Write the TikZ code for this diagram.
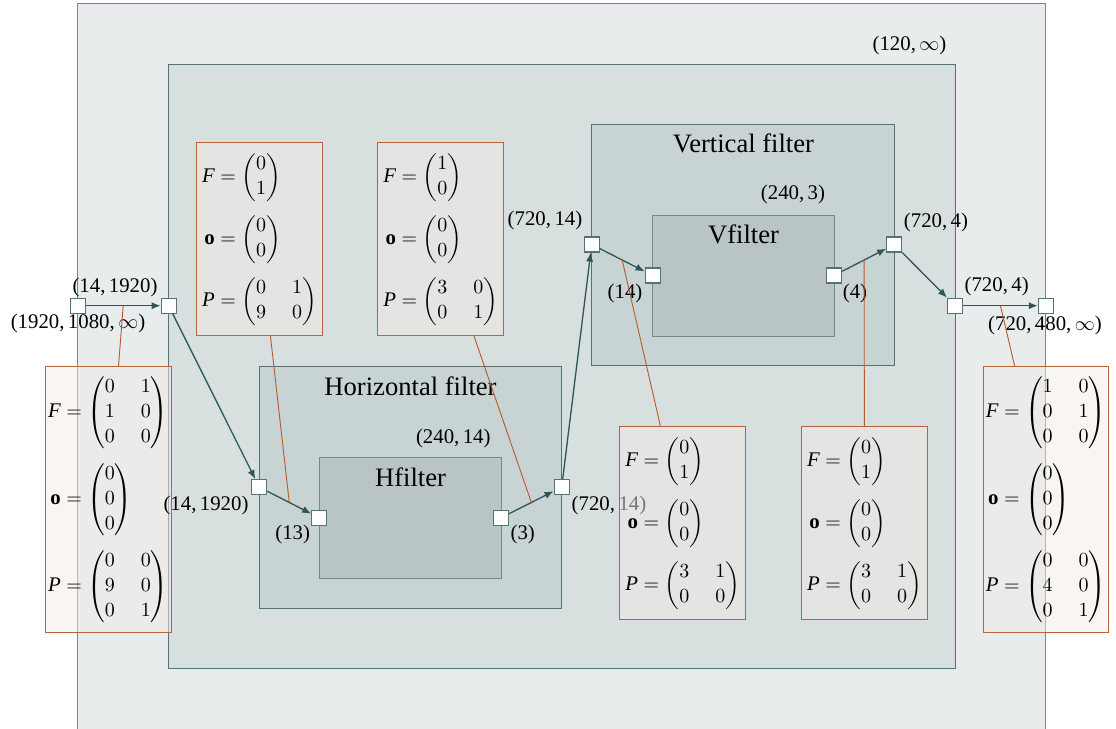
\documentclass[tikz,border=0pt]{standalone}
\usepackage{amsmath}
\usepackage{fontspec}
\setmainfont{Liberation Serif}
\newfontfamily\lsffam{Liberation Serif}[NFSSFamily=lsf]
\DeclareSymbolFont{operators}{TU}{lsf}{m}{n}
\usetikzlibrary{arrows.meta}
\definecolor{outerfill}{HTML}{E8ECEC}
\definecolor{secfill}{HTML}{D8DFDF}
\definecolor{midfill}{HTML}{C8D3D3}
\definecolor{innfill}{HTML}{B9C5C5}
\definecolor{framec}{HTML}{557373}
\definecolor{frameo}{HTML}{6F8C8C}
\definecolor{arrc}{HTML}{2F5656}
\definecolor{annc}{HTML}{B8643A}
\definecolor{annl}{HTML}{B85A2A}
\definecolor{annfill}{HTML}{F1EBE7}
\newcommand{\vF}{\textit{F}}
\newcommand{\vP}{\textit{P}}
\newcommand{\vo}{\textbf{o}}
\newcommand{\infsym}{$\infty$}
\tikzset{
  cont/.style={draw=framec, line width=0.5pt, inner sep=0pt},
  port/.style={draw=framec, fill=white, line width=0.6pt, minimum size=7.5pt, inner sep=0pt},
  arr/.style={draw=arrc, line width=0.65pt, -{Latex[length=4.5pt,width=3.6pt]}},
  annline/.style={draw=annl, line width=0.45pt},
  ann/.style={draw=annc, line width=0.5pt, fill=annfill, fill opacity=0.5, text opacity=1,
    minimum width=62.8pt, inner sep=0pt,
    font=\fontsize{10.4}{12.5}\selectfont, execute at begin node={\setlength\arraycolsep{6.5pt}}},
  lab/.style={font=\fontsize{10.4}{12.5}\selectfont, inner sep=0pt},
  ttl/.style={font=\fontsize{13.3}{16}\selectfont, inner sep=0pt},
}
\begin{document}
\begin{tikzpicture}[x=0.5pt, y=-0.5pt]
\useasboundingbox (0,0) rectangle (1116,729);
% containers
\node[cont, draw=frameo, fill=outerfill, minimum width=484.1pt, minimum height=363.2pt] (outer) at (561.8,366.2) {};
\node[cont, fill=secfill, minimum width=393.15pt, minimum height=302pt] (second) at (561.85,366) {};
\node[cont, fill=midfill, minimum width=151.2pt, minimum height=121.15pt] (hbox) at (410.5,487.15) {};
\node[cont, draw=frameo, fill=innfill, minimum width=90.85pt, minimum height=60.5pt] (hf) at (410.15,517.8) {};
\node[cont, fill=midfill, minimum width=151.3pt, minimum height=120.5pt] (vbox) at (743,244.5) {};
\node[cont, draw=frameo, fill=innfill, minimum width=90.65pt, minimum height=60.5pt] (vf) at (743.35,275.5) {};
% titles
\node[ttl] (thbox) at (410.5,386) {Horizontal filter};
\node[ttl] (thf) at (410.5,477) {Hfilter};
\node[ttl] (tvbox) at (743.5,143) {Vertical filter};
\node[ttl] (tvf) at (743.5,234) {Vfilter};
\node[lab] (c1) at (909.5,45) {(120,\,\infsym)};
\node[lab] (c2) at (453.3,438) {(240,\,14)};
\node[lab] (c3) at (793,194) {(240,\,3)};
% ports
\node[port] (p1) at (77.7,305.7) {};
\node[port] (p2) at (168.7,305.7) {};
\node[port] (p3) at (259.3,487.15) {};
\node[port] (p4) at (319.3,517.8) {};
\node[port] (p5) at (501,517.8) {};
\node[port] (p6) at (561.7,487.15) {};
\node[port] (p7) at (591.7,244.5) {};
\node[port] (p8) at (652.7,275.5) {};
\node[port] (p9) at (834,275.5) {};
\node[port] (p10) at (894.3,244.5) {};
\node[port] (p11) at (955,305.7) {};
\node[port] (p12) at (1045.9,305.7) {};
% arrows
\draw[arr] (p1) -- (p2) coordinate[pos=0.5] (m1);
\draw[arr] (p2) -- (p3);
\draw[arr] (p3) -- (p4) coordinate[pos=0.5] (m2);
\draw[arr] (p5) -- (p6) coordinate[pos=0.5] (m3);
\draw[arr] (p6) -- (p7);
\draw[arr] (p7) -- (p8) coordinate[pos=0.5] (m4);
\draw[arr] (p9) -- (p10) coordinate[pos=0.5] (m5);
\draw[arr] (p10) -- (p11);
\draw[arr] (p11) -- (p12) coordinate[pos=0.5] (m6);
% port labels
\node[lab] (l1) at (78,323) {(1920,\,1080,\,\infsym)};
\node[lab] (l2) at (115,287) {(14,\,1920)};
\node[lab] (l4) at (292.7,534) {(13)};
\node[lab] (l5) at (522.7,534) {(3)};
\node[lab] (l6) at (609,505) {(720,\,14)};
\node[lab] (l7) at (545,220) {(720,\,14)};
\node[lab] (l8) at (625,293) {(14)};
\node[lab] (l9) at (855,293) {(4)};
\node[lab] (l10) at (936,222) {(720,\,4)};
\node[lab] (l11) at (996.7,286.7) {(720,\,4)};
\node[lab] (l12) at (1045,325) {(720,\,480,\,\infsym)};
% annotations
\node[ann, minimum height=132.8pt] (a1) at (108.2,499.5) {$\begin{aligned}
\vF &= \begin{pmatrix}0&1\\1&0\\0&0\end{pmatrix}\\[2pt]
\vo &= \begin{pmatrix}0\\0\\0\end{pmatrix}\\[2pt]
\vP &= \begin{pmatrix}0&0\\9&0\\0&1\end{pmatrix}\end{aligned}$};
\node[ann, minimum height=96.5pt] (a2) at (259.5,239.2) {$\begin{aligned}
\vF &= \begin{pmatrix}0\\1\end{pmatrix}\\[2pt]
\vo &= \begin{pmatrix}0\\0\end{pmatrix}\\[2pt]
\vP &= \begin{pmatrix}0&1\\9&0\end{pmatrix}\end{aligned}$};
\node[ann, minimum height=96.5pt] (a3) at (440.7,239.2) {$\begin{aligned}
\vF &= \begin{pmatrix}1\\0\end{pmatrix}\\[2pt]
\vo &= \begin{pmatrix}0\\0\end{pmatrix}\\[2pt]
\vP &= \begin{pmatrix}3&0\\0&1\end{pmatrix}\end{aligned}$};
\node[ann, minimum height=96.5pt] (a4) at (682.7,523.3) {$\begin{aligned}
\vF &= \begin{pmatrix}0\\1\end{pmatrix}\\[2pt]
\vo &= \begin{pmatrix}0\\0\end{pmatrix}\\[2pt]
\vP &= \begin{pmatrix}3&1\\0&0\end{pmatrix}\end{aligned}$};
\node[ann, minimum height=96.5pt] (a5) at (864.5,523.3) {$\begin{aligned}
\vF &= \begin{pmatrix}0\\1\end{pmatrix}\\[2pt]
\vo &= \begin{pmatrix}0\\0\end{pmatrix}\\[2pt]
\vP &= \begin{pmatrix}3&1\\0&0\end{pmatrix}\end{aligned}$};
\node[ann, minimum height=132.8pt] (a6) at (1046,499.5) {$\begin{aligned}
\vF &= \begin{pmatrix}1&0\\0&1\\0&0\end{pmatrix}\\[2pt]
\vo &= \begin{pmatrix}0\\0\\0\end{pmatrix}\\[2pt]
\vP &= \begin{pmatrix}0&0\\4&0\\0&1\end{pmatrix}\end{aligned}$};
\node[lab] (l3) at (206,505.7) {(14,\,1920)};
% annotation connectors
\draw[annline] (m1) -- (a1);
\draw[annline] (m2) -- (a2);
\draw[annline] (m3) -- (a3);
\draw[annline] (m4) -- (a4);
\draw[annline] (m5) -- (a5);
\draw[annline] (m6) -- (a6);
\end{tikzpicture}
\end{document}
